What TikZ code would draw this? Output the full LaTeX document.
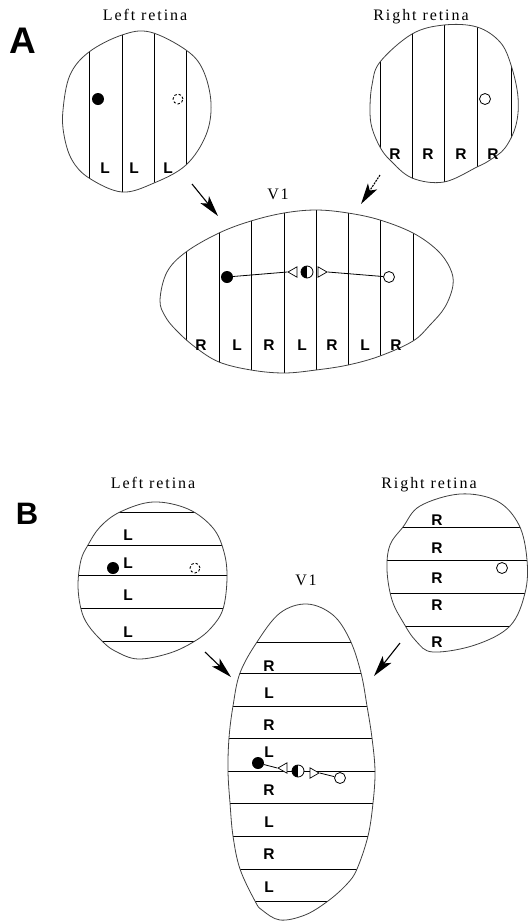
\documentclass[tikz,border=0pt]{standalone}
\usepackage{fontspec}
\setmainfont{Liberation Serif}
\newfontfamily\titlefont[LetterSpace=12]{Liberation Serif}
\newfontfamily\eyefont{Liberation Sans}
\usetikzlibrary{arrows.meta,shapes.geometric}
\begin{document}
\begin{tikzpicture}[x=1pt,y=-1pt,
  outline/.style={line width=0.8pt, draw=black!75},
  stripe/.style={line width=1pt, draw=black},
  eye/.style={font=\eyefont\bfseries\fontsize{15.5}{15.5}\selectfont, anchor=base, inner sep=0pt},
  ttl/.style={font=\titlefont\fontsize{16}{16}\selectfont, anchor=base, inner sep=0pt},
  panel/.style={font=\eyefont\bfseries, inner sep=0pt},
  fdot/.style={circle, fill=black, minimum size=12pt, inner sep=0pt},
  odot/.style={circle, draw=black, fill=white, minimum size=11pt, inner sep=0pt, line width=0.8pt},
  ddot/.style={circle, draw=black, dash pattern=on 2.5pt off 2pt, minimum size=10pt, inner sep=0pt, line width=0.9pt},
  hdot/.style={circle, draw=black, fill=white, minimum size=12pt, inner sep=0pt, line width=0.8pt,
     path picture={\fill[black] (path picture bounding box.south west) rectangle (path picture bounding box.north);}},
  tri/.style={isosceles triangle, isosceles triangle apex angle=60, draw=black, fill=white, inner sep=0pt, minimum size=9pt, line width=0.7pt},
  conn/.style={line width=0.8pt},
  bigarrow/.style={line width=1.1pt, -{Stealth[length=21pt,width=11pt,inset=5pt]}},
  blob/.style={smooth cycle, tension=0.6}
]
\useasboundingbox (0,0) rectangle (528,922);

% ---------------- Panel A ----------------
\node[panel, font=\eyefont\bfseries\fontsize{37}{37}\selectfont] (labA) at (23,41) {A};
\node[ttl] (tLA) at (145,20) {Left retina};
\node[ttl] (tRA) at (421,20) {Right retina};
\node[ttl] (tVA) at (278,199) {V1};

% Left retina A
\def\LApath{plot[blob] coordinates {(89,52) (122,35) (150,32) (186,50) (203,70) (211,103) (206,135) (186,165) (154,183) (122,192) (89,178) (72,160) (64,135) (63,110) (70,75)}}
\begin{scope}
  \clip \LApath;
  \foreach \x in {89,122,154,186} \draw[stripe] (\x,0) -- (\x,250);
\end{scope}
\draw[outline] \LApath;
\foreach \x/\n in {105/1,134/2,168/3} \node[eye] (la\n) at (\x,173) {L};
\node[fdot] (dLA) at (98,99) {};
\node[ddot] (cLA) at (178,99) {};

% Right retina A
\def\RApath{plot[blob] coordinates {(380,62) (412,34) (444,25) (477,27) (500,42) (511,65) (518,97) (516,125) (505,148) (490,160) (477,167) (444,182) (412,178) (390,160) (380,147) (372,128) (370,110) (372,85)}}
\begin{scope}
  \clip \RApath;
  \foreach \x in {380,412,444,477,511} \draw[stripe] (\x,0) -- (\x,250);
\end{scope}
\draw[outline] \RApath;
\foreach \x/\n in {395/1,428/2,461/3,493/4} \node[eye] (ra\n) at (\x,159) {R};
\node[odot] (cRA) at (485,99) {};

% V1 A
\def\VApath{plot[blob] coordinates {(160,300) (167,272) (186,252) (219,233) (251,221) (284,213) (316,210) (348,213) (380,220) (413,233) (437,250) (450,268) (453,285) (445,307) (430,325) (413,341) (380,356) (348,365) (316,370) (284,373) (251,370) (219,362) (195,347) (176,330) (165,316)}}
\begin{scope}
  \clip \VApath;
  \foreach \x in {186,219,251,284,316,348,380,413} \draw[stripe] (\x,150) -- (\x,420);
\end{scope}
\draw[outline] \VApath;
\foreach \x/\t/\n in {201/R/1,237/L/2,269/R/3,302/L/4,332/R/5,365/L/6,396/R/7} \node[eye] (va\n) at (\x,350) {\t};
\node[fdot] (fA) at (227,277) {};
\node[tri, shape border rotate=180] (tlA) at (294,272) {};
\node[hdot] (hA) at (307,272) {};
\node[tri] (trA) at (321,272) {};
\node[odot] (oA) at (389,277) {};
\draw[conn] (fA) -- (tlA.apex);
\draw[conn] (trA.apex) -- (oA);

% arrows A
\coordinate (aA1s) at (192,184); \coordinate (aA1e) at (218,216);
\coordinate (aA2s) at (380,175); \coordinate (aA2e) at (361,204);
\draw[bigarrow] (aA1s) -- (aA1e);
\draw[bigarrow, dash pattern=on 2pt off 1pt] (aA2s) -- (aA2e);

% ---------------- Panel B ----------------
\node[panel, font=\eyefont\bfseries\fontsize{31}{31}\selectfont] (labB) at (27,514) {B};
\node[ttl] (tLB) at (153,488) {Left retina};
\node[ttl] (tRB) at (429,488) {Right retina};
\node[ttl] (tVB) at (306,585) {V1};

% Left retina B
\def\LBpath{plot[blob] coordinates {(120,512) (153,502) (188,509) (213,528) (224,552) (227,578) (223,609) (211,628) (195,641) (170,653) (138,659) (115,651) (102,641) (88,625) (81,609) (78,585) (81,560) (88,545) (100,527)}}
\begin{scope}
  \clip \LBpath;
  \foreach \y in {512,545,575,608,641} \draw[stripe] (0,\y) -- (300,\y);
\end{scope}
\draw[outline] \LBpath;
\foreach \y/\n in {540/1,568/2,600/3,637/4} \node[eye] (lb\n) at (128,\y) {L};
\node[fdot] (dLB) at (113,568) {};
\node[ddot] (cLB) at (195,568) {};

% Right retina B
\def\RBpath{plot[blob] coordinates {(403,527) (420,506) (460,494) (497,501) (519,525) (527,560) (525,593) (510,626) (475,645) (433,652) (416,641) (403,622) (392,600) (387,570) (390,545)}}
\begin{scope}
  \clip \RBpath;
  \foreach \y in {527,560,593,626} \draw[stripe] (350,\y) -- (560,\y);
\end{scope}
\draw[outline] \RBpath;
\foreach \y/\n in {525/1,553/2,583/3,610/4,647/5} \node[eye] (rb\n) at (437,\y) {R};
\node[odot] (cRB) at (502,568) {};

% V1 B
\def\VBpath{plot[blob] coordinates {(307,604) (333,615) (350,640) (361,673) (367,706) (372,738) (375,771) (373,803) (368,836) (357,869) (347,884) (328,901) (305,915) (280,920) (262,910) (255,901) (240,869) (233,836) (230,803) (228,771) (229,738) (233,706) (240,673) (257,642) (280,613)}}
\begin{scope}
  \clip \VBpath;
  \foreach \y in {642,673,706,738,771,803,836,869,901} \draw[stripe] (200,\y) -- (400,\y);
\end{scope}
\draw[outline] \VBpath;
\foreach \y/\t/\n in {671/R/1,698/L/2,730/R/3,757/L/4,795/R/5,827/L/6,859/R/7,892/L/8} \node[eye] (vb\n) at (269,\y) {\t};
\node[fdot] (fB) at (258,763) {};
\node[tri, shape border rotate=170] (tlB) at (284,768) {};
\node[hdot] (hB) at (298,771) {};
\node[tri, shape border rotate=350] (trB) at (313,773) {};
\node[odot] (oB) at (340,778) {};
\draw[conn] (fB) -- (tlB.apex);
\draw[conn] (trB.apex) -- (oB);

% arrows B
\coordinate (aB1s) at (205,652); \coordinate (aB1e) at (231,677);
\coordinate (aB2s) at (400,643); \coordinate (aB2e) at (374,676);
\draw[bigarrow] (aB1s) -- (aB1e);
\draw[bigarrow] (aB2s) -- (aB2e);
\end{tikzpicture}
\end{document}
